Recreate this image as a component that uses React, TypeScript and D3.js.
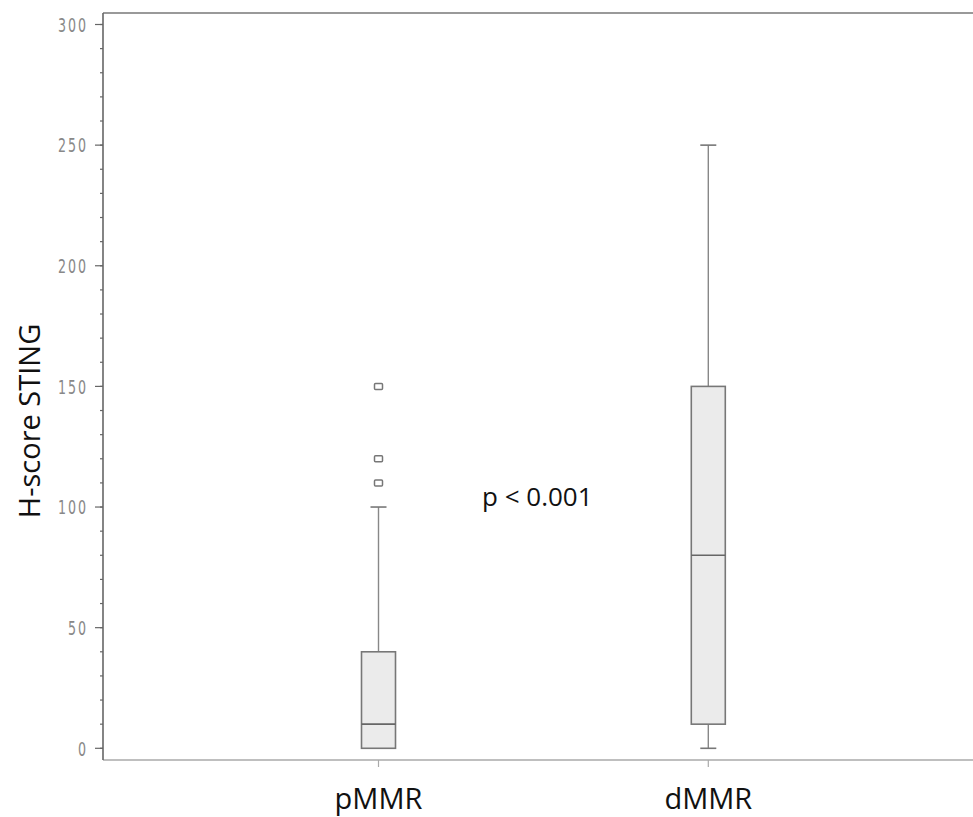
import React from "react";
import * as d3 from "d3";

const categories = ["pMMR", "dMMR"];
const q1 = [0, 10];
const medians = [10, 80];
const q3 = [40, 150];
const whiskerLow = [0, 0];
const whiskerHigh = [100, 250];
const outliers: number[][] = [[110, 120, 150], []];
const yTicks = [0, 50, 100, 150, 200, 250, 300];
const yMinorTicks = d3.range(0, 301, 10);
const yTitle = "H-score STING";
const annotation = "p < 0.001";

const W = 973;
const H = 817;
const left = 103;
const right = 973;
const top = 13;
const bottom = 760;

export default function App() {
  const y = d3.scaleLinear().domain([0, 300]).range([748.3, 24.5]);
  const x = d3.scalePoint().domain(categories).range([378.5, 708.3]);
  const boxW = 34;
  const capW = 16;
  const tickFont = "'DejaVu Sans Condensed', 'DejaVu Sans', sans-serif";
  const labelFont = "'Open Sans', 'Noto Sans', sans-serif";
  return (
    <svg width={W} height={H} style={{ position: "absolute", left: 0, top: 0, background: "#fff" }}>
      <rect x={0} y={0} width={W} height={H} fill="#fff" />
      {/* frame */}
      <line x1={left} x2={right} y1={top} y2={top} stroke="#777" strokeWidth={1.6} />
      <line x1={left} x2={right} y1={bottom} y2={bottom} stroke="#aaa" strokeWidth={1.4} />
      <line x1={left} x2={left} y1={top} y2={bottom} stroke="#666" strokeWidth={1.6} />
      {/* minor ticks */}
      {yMinorTicks.map((t) => (
        <line key={"m" + t} x1={left - 3} x2={left} y1={y(t)} y2={y(t)} stroke="#666" strokeWidth={1.2} />
      ))}
      {yTicks.map((t) => (
        <g key={"t" + t}>
          <line x1={left - 8} x2={left} y1={y(t)} y2={y(t)} stroke="#666" strokeWidth={1.2} />
          <text
            transform={`translate(88, ${y(t)}) scale(0.78, 1.12)`}
            dy="0.36em"
            textAnchor="end"
            fontFamily={tickFont}
            fontSize={18}
            letterSpacing={2.5}
            fill="#888"
          >
            {t}
          </text>
        </g>
      ))}
      {/* x ticks and labels */}
      {categories.map((c) => (
        <g key={"x" + c}>
          <line x1={x(c)!} x2={x(c)!} y1={bottom} y2={bottom + 7} stroke="#aaa" strokeWidth={1.2} />
          <text x={x(c)!} y={809} textAnchor="middle" fontFamily={labelFont} fontSize={29} fill="#111">
            {c}
          </text>
        </g>
      ))}
      {/* boxes */}
      {categories.map((c, i) => {
        const cx = x(c)!;
        return (
          <g key={"b" + c}>
            <line x1={cx} x2={cx} y1={y(q3[i])} y2={y(whiskerHigh[i])} stroke="#888" strokeWidth={1.4} />
            <line x1={cx - capW / 2} x2={cx + capW / 2} y1={y(whiskerHigh[i])} y2={y(whiskerHigh[i])} stroke="#777" strokeWidth={1.6} />
            {whiskerLow[i] < q1[i] && (
              <g>
                <line x1={cx} x2={cx} y1={y(q1[i])} y2={y(whiskerLow[i])} stroke="#888" strokeWidth={1.4} />
                <line x1={cx - capW / 2} x2={cx + capW / 2} y1={y(whiskerLow[i])} y2={y(whiskerLow[i])} stroke="#777" strokeWidth={1.6} />
              </g>
            )}
            <rect
              x={cx - boxW / 2}
              y={y(q3[i])}
              width={boxW}
              height={y(q1[i]) - y(q3[i])}
              fill="#ebebeb"
              stroke="#777"
              strokeWidth={1.6}
            />
            <line x1={cx - boxW / 2} x2={cx + boxW / 2} y1={y(medians[i])} y2={y(medians[i])} stroke="#666" strokeWidth={1.6} />
            {outliers[i].map((o) => (
              <rect
                key={"o" + o}
                x={cx - 4}
                y={y(o) - 3}
                width={8}
                height={6}
                rx={1}
                fill="#fff"
                stroke="#777"
                strokeWidth={1.5}
              />
            ))}
          </g>
        );
      })}
      <text x={482} y={506} fontFamily={labelFont} fontSize={26} fill="#111">
        {annotation}
      </text>
      <text
        transform={`translate(40, 421) rotate(-90)`}
        textAnchor="middle"
        fontFamily={labelFont}
        fontSize={29}
        fill="#111"
      >
        {yTitle}
      </text>
    </svg>
  );
}
